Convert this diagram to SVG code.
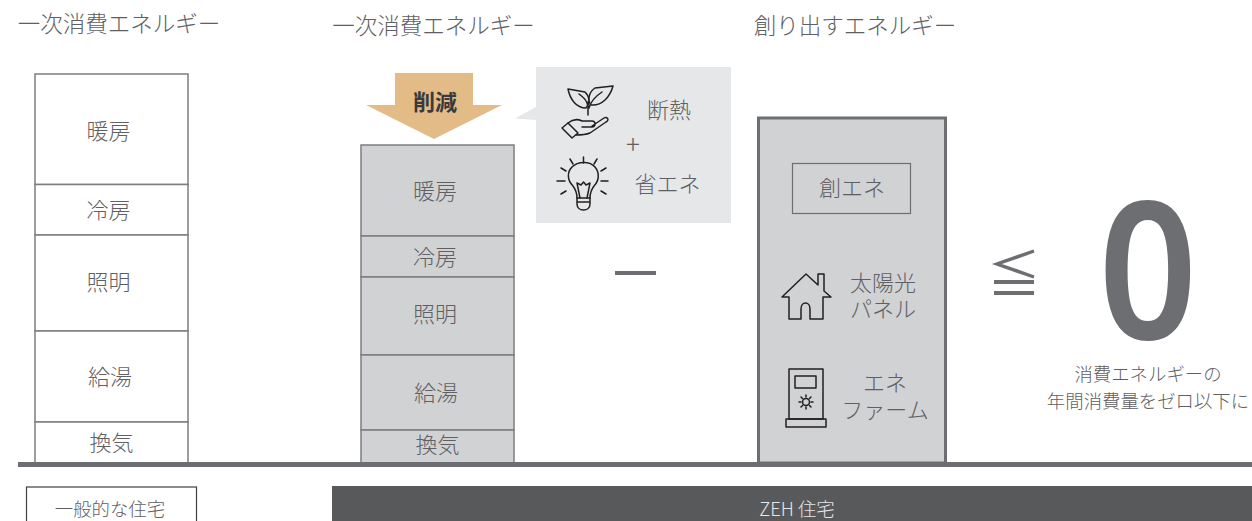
<svg xmlns="http://www.w3.org/2000/svg" width="1252" height="521" viewBox="0 0 1252 521">
<style>
text{font-family:"Noto Sans CJK JP","Noto Sans",sans-serif;font-weight:300;fill:#5f6063;text-anchor:middle}
.h{font-size:22.500px}
.l{font-size:22px}
.s{font-size:18.400px}
.seg{fill:#fff;stroke:#7d7e80;stroke-width:1.5}
.gseg{fill:#d1d2d4;stroke:#7d7e80;stroke-width:1.5}
.ic{fill:none;stroke:#231f20;stroke-width:1.5;stroke-linejoin:round;stroke-linecap:round}
</style>
<rect width="1252" height="521" fill="#fff"/>

<g id="col-general">
<text class="h" x="119" y="32">一次消費エネルギー</text>
<rect class="seg" x="35" y="74" width="153" height="110.500"/>
<rect class="seg" x="35" y="184.500" width="153" height="50.500"/>
<rect class="seg" x="35" y="235" width="153" height="96"/>
<rect class="seg" x="35" y="331" width="153" height="91"/>
<rect class="seg" x="35" y="422" width="153" height="41"/>
<text class="l" x="108.500" y="139">暖房</text>
<text class="l" x="108.500" y="218">冷房</text>
<text class="l" x="108.500" y="290">照明</text>
<text class="l" x="110" y="385">給湯</text>
<text class="l" x="111.500" y="451">換気</text>
</g>

<g id="col-zeh">
<text class="h" x="433.500" y="34">一次消費エネルギー</text>
<rect class="gseg" x="361" y="145" width="153" height="91"/>
<rect class="gseg" x="361" y="236" width="153" height="41"/>
<rect class="gseg" x="361" y="277" width="153" height="78"/>
<rect class="gseg" x="361" y="355" width="153" height="75"/>
<rect class="gseg" x="361" y="430" width="153" height="33"/>
<text class="l" x="435" y="199">暖房</text>
<text class="l" x="435" y="265">冷房</text>
<text class="l" x="435" y="322">照明</text>
<text class="l" x="436" y="401">給湯</text>
<text class="l" x="437.500" y="453">換気</text>
</g>

<g id="reduce-arrow">
<polygon points="395,73 473,73 473,105 502,105 434,139 366,105 395,105" fill="#e3bb87"/>
<text x="435" y="110" style="font-size:22px;font-weight:700;fill:#3a3a3c">削減</text>
</g>

<g id="callout">
<polygon points="536,67 731,67 731,223 536,223 536,120 515,118.500 536,107" fill="#e6e7e8"/>
<text class="l" x="669" y="118">断熱</text>
<text x="633" y="154" style="font-size:26px">+</text>
<text class="l" x="667.500" y="192">省エネ</text>
<g id="icon-plant" class="ic">
<path d="M588 115V102M588 106C587 100 583 97 579 94M589 108C591 100 596 96 602 92"/>
<path d="M568 89L585 92C590 97 590 103 586 108C576 108 570 99 568 89Z"/>
<path d="M613 86L595 88C589 92 587 100 591 105C602 106 610 97 613 86Z"/>
<path d="M562 128L568 123L578 133L572 138Z"/>
<path d="M568 123C573 119 578 119 582 121H592C596 121 596 127 592 127H582M592 126L604 118C607 116 610 120 606 122L590 133C585 135 580 135 576 135"/>
</g>
<g id="icon-bulb" class="ic">
<path d="M573 186C567 180 567 172 572 167C578 161 590 161 595 167C600 173 599 181 594 186C591 190 590 193 590 198H577C577 193 576 190 573 186Z"/>
<path d="M577 198V204C577 208 580 210 583.500 210C587 210 590 208 590 204V198M577 202H590M580 198L577 183L581 185L583.500 182L586 185L590 183L587 198"/>
<path d="M583.500 157V163M570 159L573 164M597 159L594 164M561 168L566 171M606 168L601 171M557 181H565M601 181H608M561 194L566 191M606 194L601 191"/>
</g>
</g>

<g id="minus"><rect x="615" y="271" width="41" height="4" fill="#6d6e71"/></g>

<g id="col-create">
<text class="h" x="855" y="34">創り出すエネルギー</text>
<rect x="758.500" y="118" width="187" height="345" fill="#d1d2d4" stroke="#6d6e71" stroke-width="3"/>
<rect x="792.500" y="163.500" width="118" height="50" fill="none" stroke="#6d6e71" stroke-width="1.200"/>
<text class="l" x="852" y="196">創エネ</text>
<text class="l" x="883" y="291">太陽光</text>
<text class="l" x="883" y="317">パネル</text>
<text class="l" x="885" y="391">エネ</text>
<text class="l" x="885" y="418">ファーム</text>
<g id="icon-house" class="ic">
<path d="M782 297L806 274L818 285V274H824V291L831 297H823V319H810V309C810 301 801 301 801 309V319H789V297Z"/>
</g>
<g id="icon-fuelcell" class="ic">
<rect x="789" y="369" width="34" height="50"/>
<rect x="795" y="376" width="21" height="12"/>
<rect x="786" y="419" width="40" height="8"/>
<circle cx="806" cy="402" r="3.500"/>
<path d="M806 395V397M806 407V409M799 402H801M811 402H813M801 397L802.500 398.500M809.500 405.500L811 407M811 397L809.500 398.500M802.500 405.500L801 407"/>
</g>
</g>

<g id="result">
<path d="M1034 251L997 264L1034 277" fill="none" stroke="#6d6e71" stroke-width="3.400"/>
<path d="M994 282H1034M994 293H1034" fill="none" stroke="#6d6e71" stroke-width="3.800"/>
<text transform="translate(1148 339) scale(.9 1)" style="font-family:'Noto Sans',sans-serif;font-size:192px;font-weight:600;fill:#6d6e71">0</text>
<text class="s" x="1148" y="381">消費エネルギーの</text>
<text class="s" x="1148" y="408">年間消費量をゼロ以下に</text>
</g>

<g id="ground"><rect x="18" y="462" width="1234" height="5" fill="#6d6e71"/></g>

<g id="label-general">
<rect x="26.500" y="487" width="170" height="50" fill="#fff" stroke="#414042" stroke-width="1.200"/>
<text class="s" x="110" y="516">一般的な住宅</text>
</g>
<g id="label-zeh">
<rect x="332" y="486" width="920" height="40" fill="#58595b"/>
<text class="s" x="797" y="516" style="fill:#e6e7e8">ZEH 住宅</text>
</g>
</svg>
